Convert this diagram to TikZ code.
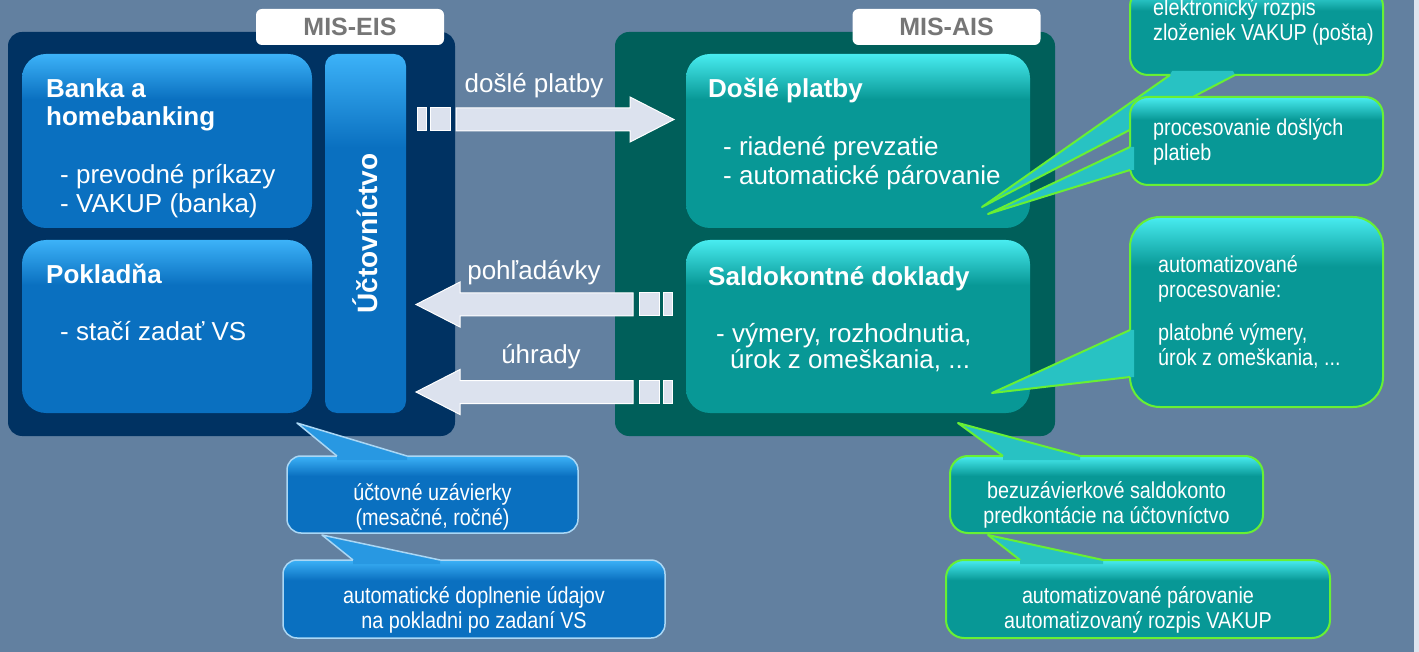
\documentclass[tikz,border=0pt]{standalone}
\usepackage{fontspec}
\setmainfont{Liberation Sans}
\newfontfamily\narrowfont{Liberation Sans}[FakeStretch=0.86]

\definecolor{slide}{RGB}{98,128,160}
\definecolor{strip}{RGB}{222,229,240}
\definecolor{eisdark}{RGB}{0,50,98}
\definecolor{aisdark}{RGB}{0,95,90}
\definecolor{bluebase}{RGB}{10,112,192}
\definecolor{bluetop}{RGB}{60,178,248}
\definecolor{tealbase}{RGB}{8,152,150}
\definecolor{tealtop}{RGB}{72,236,240}
\definecolor{leaf}{RGB}{104,240,52}
\definecolor{paleblue}{RGB}{170,215,245}
\definecolor{flowgray}{RGB}{220,226,238}
\definecolor{tabgray}{RGB}{118,118,118}

\pgfdeclareverticalshading{bluegloss}{100bp}{color(0bp)=(bluebase); color(25bp)=(bluebase);
  color(62bp)=(bluebase); color(75bp)=(bluetop); color(100bp)=(bluetop)}
\pgfdeclareverticalshading{tealgloss}{100bp}{color(0bp)=(tealbase); color(25bp)=(tealbase);
  color(62bp)=(tealbase); color(75bp)=(tealtop); color(100bp)=(tealtop)}

\tikzset{container/.style = {rounded corners=14, inner sep=0},
         tab/.style = {fill=white, rounded corners=6, minimum width=188, minimum height=36,
                       font=\fontsize{25}{28}\selectfont\bfseries, text=tabgray},
         bluebox/.style = {rounded corners=24, inner sep=0, shade, shading=bluegloss},
         tealbox/.style = {rounded corners=24, inner sep=0, shade, shading=tealgloss},
         title/.style = {font=\fontsize{26}{28.5}\selectfont\bfseries, text=white, align=left, inner sep=0},
         body/.style = {font=\fontsize{26}{29}\selectfont, text=white, align=left, inner sep=0},
         flowlabel/.style = {font=\fontsize{26}{29}\selectfont, text=white, inner sep=0},
         flow/.style = {fill=flowgray, draw=white, line width=1},
         note/.style = {font=\narrowfont\fontsize{23}{25}\selectfont, text=white, align=left, inner sep=0},
         bluenote/.style = {rounded corners=14, inner sep=0, shade, shading=bluegloss,
                            draw=paleblue, line width=1.5},
         tealnote/.style = {rounded corners=18, inner sep=0, shade, shading=tealgloss,
                            draw=leaf, line width=2},
         blueptr/.style = {fill=bluetop!60!bluebase},
         tealptr/.style = {fill=tealtop!50!tealbase},
         ptredge/.style = {line width=2, line join=round}}

\begin{document}
\begin{tikzpicture}[x=1pt, y=-1pt]
    \clip (0,0) rectangle (1419,652);
    \fill [slide] (0,0) rectangle (1414,652);
    \fill [strip] (1414,0) rectangle (1419,652);

    % MIS-EIS
    \node [container, fill=eisdark, minimum width=447, minimum height=404] (eis) at (231.5,234) {};
    \node [tab] (eistab) at (350,27) {MIS-EIS};
    \node [bluebox, minimum width=290, minimum height=174] (banka) at (167,141) {};
    \node [bluebox, minimum width=290, minimum height=173] (pokladna) at (167,326.5) {};
    \node [bluebox, rounded corners=12, minimum width=81, minimum height=359] (uct) at (365.5,233.5) {};
    \node [title, anchor=north west] (bankahead) at (46,78) {Banka a\\homebanking};
    \node [body, anchor=north west] (bankabody) at (60,164) {- prevodné príkazy\\- VAKUP (banka)};
    \node [title, anchor=north west] (pokladnahead) at (46,264) {Pokladňa};
    \node [body, anchor=north west] (pokladnabody) at (60,321) {- stačí zadať VS};
    \node [title, font=\fontsize{28}{30}\selectfont\bfseries, rotate=90] (uctlabel) at (uct) {Účtovníctvo};

    % MIS-AIS
    \node [container, fill=aisdark, minimum width=440, minimum height=404] (ais) at (835,234) {};
    \node [tab] (aistab) at (946.5,27) {MIS-AIS};
    \node [tealbox, minimum width=344, minimum height=174] (dosle) at (858,141) {};
    \node [tealbox, minimum width=344, minimum height=173] (saldo) at (858,326.5) {};
    \node [title, anchor=north west] (doslehead) at (708,78) {Došlé platby};
    \node [body, anchor=north west] (doslebody) at (723,136) {- riadené prevzatie\\- automatické párovanie};
    \node [title, anchor=north west] (saldohead) at (708,266) {Saldokontné doklady};
    \node [body, font=\fontsize{26}{26}\selectfont, anchor=north west] (saldobody) at (716,323)
        {- výmery, rozhodnutia,\\\hspace*{14pt}úrok z omeškania, ...};

    % flows between the systems
    \foreach \y/\tail/\tip in {119.5/456/674, 304.5/633/416, 392/633/416} {
      \pgfmathsetmacro\dir{\tip > \tail ? 1 : -1}
      \pgfmathsetmacro\neck{\tip - 44*\dir}
      \draw [flow] (\tail,\y-11.5) -- (\neck,\y-11.5) -- (\neck,\y-22.5) -- (\tip,\y)
                   -- (\neck,\y+22.5) -- (\neck,\y+11.5) -- (\tail,\y+11.5) -- cycle;
      \foreach \a/\b in {6/26, 30/39}
        \draw [flow] (\tail-\a*\dir,\y-11.5) rectangle (\tail-\b*\dir,\y+11.5);
    }
    \node [flowlabel, anchor=base] (paylabel) at (534,93) {došlé platby};
    \node [flowlabel, anchor=base] (claimlabel) at (534,280) {pohľadávky};
    \node [flowlabel, anchor=base] (settlelabel) at (541,363) {úhrady};

    % notes on the right
    \node [tealnote, minimum width=253, minimum height=87] (epost) at (1256.5,31.5) {};
    \fill [tealptr] (1172,71) -- (1170,75) -- (982,207) -- (1235,75) -- (1233,71) -- cycle;
    \draw [ptredge, leaf] (1170,75) -- (982,207) -- (1235,75);
    \node [note, anchor=north west] (eposttext) at (1153,-2) {elektronický rozpis\\zloženiek VAKUP (pošta)};

    \node [tealnote, minimum width=253, minimum height=88] (procnote) at (1256.5,141) {};
    \fill [tealptr] (1134,147) -- (1130,147) -- (988,214) -- (1130,170) -- (1134,170) -- cycle;
    \draw [ptredge, leaf] (1130,147) -- (988,214) -- (1130,170);
    \node [note, anchor=north west] (proctext) at (1153,118) {procesovanie došlých\\platieb};

    \node [tealnote, rounded corners=30, minimum width=253, minimum height=190] (autonote) at (1256.5,312) {};
    \fill [tealptr] (1134,330) -- (1130,330) -- (992,393) -- (1130,377) -- (1134,377) -- cycle;
    \draw [ptredge, leaf] (1130,330) -- (992,393) -- (1130,377);
    \node [note, anchor=north west] (autotext) at (1158,255) {automatizované\\procesovanie:};
    \node [note, anchor=north west] (autolist) at (1158,323) {platobné výmery,\\úrok z omeškania, ...};

    % notes below
    \node [bluenote, minimum width=291, minimum height=77] (closing) at (432.5,494.5) {};
    \fill [blueptr] (337,460) -- (337,456) -- (297,423) -- (407,456) -- (407,460) -- cycle;
    \draw [ptredge, paleblue, line width=1.5] (337,456) -- (297,423) -- (407,456);
    \node [note, align=center, anchor=north] (closingtext) at (432.5,483) {účtovné uzávierky\\(mesačné, ročné)};

    \node [bluenote, minimum width=382, minimum height=78] (autofill) at (474,599) {};
    \fill [blueptr] (353,564) -- (353,560) -- (322,535) -- (440,560) -- (440,564) -- cycle;
    \draw [ptredge, paleblue, line width=1.5] (353,560) -- (322,535) -- (440,560);
    \node [note, align=center, anchor=north] (autofilltext) at (474,586) {automatické doplnenie údajov\\na pokladni po zadaní VS};

    \node [tealnote, minimum width=313, minimum height=77] (saldonote) at (1106.5,494.5) {};
    \fill [tealptr] (1003,460) -- (1003,456) -- (958,423) -- (1080,456) -- (1080,460) -- cycle;
    \draw [ptredge, leaf] (1003,456) -- (958,423) -- (1080,456);
    \node [note, align=center, anchor=north] (saldonotetext) at (1106.5,481) {bezuzávierkové saldokonto\\predkontácie na účtovníctvo};

    \node [tealnote, minimum width=384, minimum height=78] (pairnote) at (1138,599) {};
    \fill [tealptr] (1020,564) -- (1020,560) -- (988,535) -- (1103,560) -- (1103,564) -- cycle;
    \draw [ptredge, leaf] (1020,560) -- (988,535) -- (1103,560);
    \node [note, align=center, anchor=north] (pairtext) at (1138,586) {automatizované párovanie\\automatizovaný rozpis VAKUP};
\end{tikzpicture}
\end{document}
